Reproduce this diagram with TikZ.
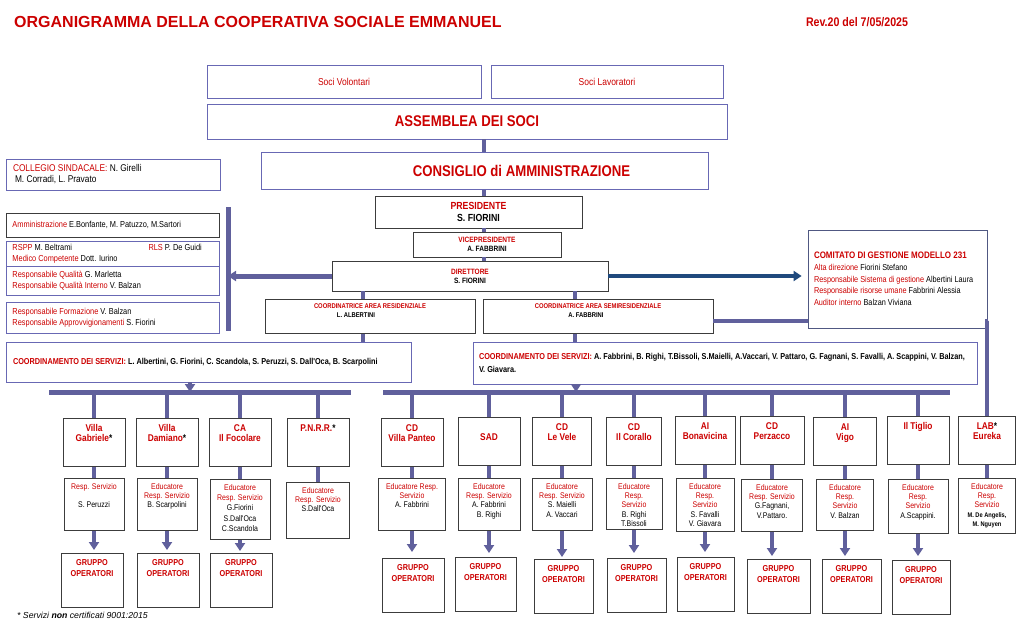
\documentclass[tikz,border=0pt]{standalone}
\usepackage{fontspec}
\setmainfont{Liberation Sans}
\newfontfamily\narr[FakeStretch=0.85]{Liberation Sans}
\usetikzlibrary{arrows.meta}
\definecolor{redtext}{RGB}{204,0,0}
\definecolor{boxblue}{RGB}{104,104,180}
\definecolor{boxdark}{RGB}{60,60,60}
\definecolor{connblue}{RGB}{96,96,156}
\definecolor{navyline}{RGB}{31,73,125}
\definecolor{comline}{RGB}{80,88,130}
\newcommand{\rd}[1]{\textcolor{redtext}{#1}}
\newcommand{\fs}[2]{\fontsize{#1}{#2}\selectfont}
\tikzstyle{bluebox}=[draw=boxblue,line width=0.8pt,fill=white,inner sep=0pt]
\tikzstyle{darkbox}=[draw=boxdark,line width=0.8pt,fill=white,inner sep=0pt]
\tikzstyle{sidebox}=[bluebox,align=flush left,text width=200pt,minimum width=213pt,font=\narr\fs{8.7}{11}]
\tikzstyle{cell}=[darkbox,anchor=north,align=flush center,inner xsep=3pt,inner ysep=4pt]
\tikzstyle{unit}=[cell,text width=56pt,text height=9pt,text depth=31pt,text=redtext,font=\narr\bfseries\fs{9.8}{10.5}]
\tikzstyle{resp}=[cell,text width=54pt,text height=7pt,text depth=37pt,font=\narr\fs{8.2}{9.2}]
\tikzstyle{grp}=[cell,text width=56pt,text height=8pt,text depth=38pt,text=redtext,font=\narr\bfseries\fs{8.6}{11}]
\tikzstyle{conn}=[draw=connblue,line width=4pt]
\tikzstyle{navy}=[draw=navyline,fill=navyline,line width=3.5pt]

\begin{document}
\begin{tikzpicture}[x=1pt,y=-1pt,>={Triangle[width=10pt,length=8pt]}]
          \fill[white] (0,0) rectangle (1024,621);
          \useasboundingbox (0,0) rectangle (1024,621);

          \node[anchor=west,inner sep=0pt,text=redtext,font=\bfseries\fs{16}{18}] at (14, 21.5) (titolo) {ORGANIGRAMMA DELLA COOPERATIVA SOCIALE EMMANUEL};
          \node[inner sep=0pt,text=redtext,font=\narr\bfseries\fs{12.5}{14}] at (857, 22.5) (rev) {Rev.20 del 7/05/2025};

          \node[bluebox,minimum width=274pt,minimum height=33pt,text=redtext,font=\narr\fs{10}{12}] at (344, 81.5) (volontari) {Soci Volontari};
          \node[bluebox,minimum width=232pt,minimum height=33pt,text=redtext,font=\narr\fs{10}{12}] at (607, 81.5) (lavoratori) {Soci Lavoratori};
          \node[bluebox,minimum width=520pt,minimum height=35pt,text=redtext,font=\narr\bfseries\fs{15.5}{18}] at (467, 121.5) (assemblea) {ASSEMBLEA DEI SOCI};
          \node[bluebox,minimum width=447pt,minimum height=37pt,text=redtext,font=\narr\bfseries\fs{15.5}{18}] at (484.5, 171) (consiglio) {\hspace*{74pt}CONSIGLIO di AMMINISTRAZIONE};
          \node[darkbox,minimum width=207pt,minimum height=32pt,align=flush center,font=\narr\bfseries\fs{10.3}{12}] at (478.5, 212) (presidente) {\rd{PRESIDENTE}\\S. FIORINI};
          \node[darkbox,minimum width=148pt,minimum height=25pt,align=flush center,font=\narr\bfseries\fs{7.7}{9}] at (487, 244.5) (vice) {\rd{VICEPRESIDENTE}\\A. FABBRINI};
          \node[darkbox,minimum width=276pt,minimum height=30pt,align=flush center,font=\narr\bfseries\fs{7.7}{9}] at (470, 276) (direttore) {\rd{DIRETTORE}\\S. FIORINI};
          \node[cell,inner ysep=3pt,text width=204pt,text height=6pt,text depth=22pt,font=\narr\bfseries\fs{6.9}{9}] at (370, 299) (resid) {\rd{COORDINATRICE AREA RESIDENZIALE}\\\hspace*{-28pt}L. ALBERTINI};
          \node[cell,inner ysep=3pt,text width=224pt,text height=6pt,text depth=22pt,font=\narr\bfseries\fs{6.9}{9}] at (598, 299) (semires) {\rd{COORDINATRICE AREA SEMIRESIDENZIALE}\\\hspace*{-24pt}A. FABBRINI};
          \node[draw=comline,line width=0.8pt,fill=white,minimum width=179pt,minimum height=98pt,text width=167pt,align=flush left,inner sep=0pt,font=\narr\fs{8.6}{11.7}] at (897.5, 279) (comitato) {\rd{\bfseries\fs{9.4}{11.7}COMITATO DI GESTIONE MODELLO 231}\\\rd{Alta direzione} Fiorini Stefano\\\rd{Responsabile Sistema di gestione} Albertini Laura\\\rd{Responsabile risorse umane} Fabbrini Alessia\\\rd{Auditor interno} Balzan Viviana};

          \node[sidebox,minimum width=214pt,minimum height=31pt,font=\narr\fs{9.8}{11}] at (113, 174.5) (collegio) {\rd{COLLEGIO SINDACALE:} N. Girelli\\\hspace*{2pt}M. Corradi, L. Pravato};
          \node[sidebox,draw=boxdark,minimum height=24pt] at (112.5, 225) (ammin) {\rd{Amministrazione} E.Bonfante, M. Patuzzo, M.Sartori};
          \node[sidebox,minimum height=25pt] at (112.5, 253.5) (rspp) {\makebox[136pt][l]{\rd{RSPP} M. Beltrami}\rd{RLS} P. De Guidi\\\rd{Medico Competente} Dott. Iurino};
          \node[sidebox,minimum height=29pt] at (112.5, 280.5) (qualita) {\rd{Responsabile Qualità} G. Marletta\\\rd{Responsabile Qualità Interno} V. Balzan};
          \node[sidebox,minimum height=31pt] at (112.5, 317.5) (formazione) {\rd{Responsabile Formazione} V. Balzan\\\rd{Responsabile Approvvigionamenti} S. Fiorini};

          \node[bluebox,minimum width=405pt,minimum height=40pt,text width=391pt,align=flush left,font=\narr\bfseries\fs{8.6}{12.5}] at (208.5, 362) (coordres) {\rd{COORDINAMENTO DEI SERVIZI:} L. Albertini, G. Fiorini, C. Scandola, S. Peruzzi, S. Dall'Oca, B. Scarpolini};
          \node[bluebox,minimum width=504pt,minimum height=42pt,text width=492pt,align=flush left,font=\narr\bfseries\fs{8.6}{12.5}] at (725, 363) (coordsem) {\rd{COORDINAMENTO DEI SERVIZI:} A. Fabbrini, B. Righi, T.Bissoli, S.Maielli, A.Vaccari, V. Pattaro, G. Fagnani, S. Favalli, A. Scappini, V. Balzan,\\V. Giavara.};

          \node[unit] at (94, 418) (gabriele) {Villa\\Gabriele\textcolor{black}{*}};
          \node[unit] at (167, 418) (damiano) {Villa\\Damiano\textcolor{black}{*}};
          \node[unit] at (240, 418) (focolare) {CA\\Il Focolare};
          \node[unit] at (318, 418) (pnrr) {P.N.R.R.\textcolor{black}{*}};
          \node[unit] at (412, 418) (panteo) {CD\\Villa Panteo};
          \node[unit] at (489, 417) (sad) {\mbox{}\\SAD};
          \node[unit,text width=53pt] at (562, 417) (vele) {CD\\Le Vele};
          \node[unit,text width=49pt] at (634, 417) (corallo) {CD\\Il Corallo};
          \node[unit,text width=54pt] at (705, 416) (bonavicina) {AI\\Bonavicina};
          \node[unit,text width=58pt] at (772, 416) (perzacco) {CD\\Perzacco};
          \node[unit,text width=57pt] at (845, 417) (vigo) {AI\\Vigo};
          \node[unit] at (918, 416) (tiglio) {Il Tiglio};
          \node[unit,text width=51pt] at (987, 416) (lab) {LAB\textcolor{black}{*}\\Eureka};

          \node[resp] at (94, 478) (rgabriele) {\rd{Resp. Servizio}\\[9pt]S. Peruzzi};
          \node[resp] at (167, 478) (rdamiano) {\rd{Educatore}\\\rd{Resp. Servizio}\\B. Scarpolini};
          \node[resp,text depth=45pt,font=\narr\fs{8.2}{10.2}] at (240, 479) (rfocolare) {\rd{Educatore}\\\rd{Resp. Servizio}\\G.Fiorini\\S.Dall'Oca\\C.Scandola};
          \node[resp,text width=57pt,text depth=41pt] at (318, 482) (rpnrr) {\rd{Educatore}\\\rd{Resp. Servizio}\\S.Dall'Oca};
          \node[resp,text width=61pt] at (412, 478) (rpanteo) {\rd{Educatore Resp.}\\\rd{Servizio}\\A. Fabbrini};
          \node[resp,text width=56pt] at (489, 478) (rsad) {\rd{Educatore}\\\rd{Resp. Servizio}\\A. Fabbrini\\B. Righi};
          \node[resp] at (562, 478) (rvele) {\rd{Educatore}\\\rd{Resp. Servizio}\\S. Maielli\\A. Vaccari};
          \node[resp,text width=50pt,text depth=36pt] at (634, 478) (rcorallo) {\rd{Educatore}\\\rd{Resp.}\\\rd{Servizio}\\B. Righi\\T.Bissoli};
          \node[resp,text width=52pt,text depth=38pt] at (705, 478) (rbonavicina) {\rd{Educatore}\\\rd{Resp.}\\\rd{Servizio}\\S. Favalli\\V. Giavara};
          \node[resp,text width=55pt] at (772, 479) (rperzacco) {\rd{Educatore}\\\rd{Resp. Servizio}\\G.Fagnani,\\V.Pattaro.};
          \node[resp,text width=51pt,text depth=36pt] at (845, 479) (rvigo) {\rd{Educatore}\\\rd{Resp.}\\\rd{Servizio}\\V. Balzan};
          \node[resp,text depth=39pt] at (918, 479) (rtiglio) {\rd{Educatore}\\\rd{Resp.}\\\rd{Servizio}\\A.Scappini.};
          \node[resp,text width=51pt,text depth=40pt] at (987, 478) (rlab) {\rd{Educatore}\\\rd{Resp.}\\\rd{Servizio}\\{\bfseries\fs{6.7}{9}M. De Angelis,}\\{\bfseries\fs{6.7}{9}M. Nguyen}};

          \node[grp] at (92, 553) (ggabriele) {GRUPPO\\OPERATORI};
          \node[grp] at (168, 553) (gdamiano) {GRUPPO\\OPERATORI};
          \node[grp] at (241, 553) (gfocolare) {GRUPPO\\OPERATORI};
          \node[grp] at (413, 558) (gpanteo) {GRUPPO\\OPERATORI};
          \node[grp,text width=55pt] at (485.5, 557) (gsad) {GRUPPO\\OPERATORI};
          \node[grp,text width=53pt] at (563.5, 559) (gvele) {GRUPPO\\OPERATORI};
          \node[grp,text width=53pt] at (636.5, 558) (gcorallo) {GRUPPO\\OPERATORI};
          \node[grp,text width=51pt] at (705.5, 557) (gbonavicina) {GRUPPO\\OPERATORI};
          \node[grp,text width=57pt] at (778.5, 559) (gperzacco) {GRUPPO\\OPERATORI};
          \node[grp,text width=53pt] at (851.5, 559) (gvigo) {GRUPPO\\OPERATORI};
          \node[grp,text width=52pt] at (921, 560) (gtiglio) {GRUPPO\\OPERATORI};

          \node[anchor=base west,inner sep=0pt,font=\itshape\fs{8.7}{10}] at (17, 618) (nota) {* Servizi \textbf{non} certificati 9001:2015};

          \coordinate (spine) at (484, 0);
          \coordinate (kres) at (363, 0);
          \coordinate (ksem) at (575, 0);
          \coordinate (sideT) at (228, 207);
          \coordinate (sideB) at (228, 331);
          \coordinate (blW) at (49, 392);
          \coordinate (blE) at (351, 392);
          \coordinate (bl) at (190, 392);
          \coordinate (brW) at (383, 392);
          \coordinate (brE) at (950, 392);
          \coordinate (br) at (576, 392);

          \draw[conn] (assemblea.south -| spine) -- (consiglio.north -| spine);
          \draw[conn] (consiglio.south -| spine) -- (presidente.north -| spine);
          \draw[conn] (presidente.south -| spine) -- (vice.north -| spine);
          \draw[conn] (vice.south -| spine) -- (direttore.north -| spine);
          \draw[conn] (direttore.south -| kres) -- (resid.north -| kres);
          \draw[conn] (direttore.south -| ksem) -- (semires.north -| ksem);
          \draw[conn] (resid.south -| kres) -- (coordres.north -| kres);
          \draw[conn] (semires.south -| ksem) -- (coordsem.north -| ksem);

          \draw[conn,line width=5pt] (sideT) -- (sideB);
          \draw[conn,line width=5pt,->] (direttore.west) -- (direttore.west -| sideT);
          \draw[navy,->,shorten >=6pt] (direttore.east) -- (comitato.west |- direttore.east);
          \draw[conn] ([yshift=-4.5pt]semires.east) -- ([yshift=-4.5pt]semires.east -| comitato.west);
          \draw[conn] ([yshift=-4.5pt]semires.east -| comitato.east) -| (lab.north);

          \draw[conn,line width=5pt] (blW) -- (blE);
          \draw[conn,line width=5pt] (brW) -- (brE);
          \draw[conn,->] (coordres.south -| bl) -- (bl);
          \draw[conn,->] (coordsem.south -| br) -- (br);

          \draw[conn] (gabriele.north |- bl) -- (gabriele.north);
          \draw[conn] (damiano.north |- bl) -- (damiano.north);
          \draw[conn] (focolare.north |- bl) -- (focolare.north);
          \draw[conn] (pnrr.north |- bl) -- (pnrr.north);
          \draw[conn] (panteo.north |- br) -- (panteo.north);
          \draw[conn] (sad.north |- br) -- (sad.north);
          \draw[conn] (vele.north |- br) -- (vele.north);
          \draw[conn] (corallo.north |- br) -- (corallo.north);
          \draw[conn] (bonavicina.north |- br) -- (bonavicina.north);
          \draw[conn] (perzacco.north |- br) -- (perzacco.north);
          \draw[conn] (vigo.north |- br) -- (vigo.north);
          \draw[conn] (tiglio.north |- br) -- (tiglio.north);

          \draw[conn] (gabriele) -- (rgabriele);
          \draw[conn] (damiano) -- (rdamiano);
          \draw[conn] (focolare) -- (rfocolare);
          \draw[conn] (pnrr) -- (rpnrr);
          \draw[conn] (panteo) -- (rpanteo);
          \draw[conn] (sad) -- (rsad);
          \draw[conn] (vele) -- (rvele);
          \draw[conn] (corallo) -- (rcorallo);
          \draw[conn] (bonavicina) -- (rbonavicina);
          \draw[conn] (perzacco) -- (rperzacco);
          \draw[conn] (vigo) -- (rvigo);
          \draw[conn] (tiglio) -- (rtiglio);
          \draw[conn] (lab) -- (rlab);

          \draw[conn,->,shorten >=3pt] (rgabriele.south) -- (rgabriele.south |- ggabriele.north);
          \draw[conn,->,shorten >=3pt] (rdamiano.south) -- (rdamiano.south |- gdamiano.north);
          \draw[conn,->,shorten >=2pt] (rfocolare.south) -- (rfocolare.south |- gfocolare.north);
          \draw[conn,->,shorten >=6pt] (rpanteo.south) -- (rpanteo.south |- gpanteo.north);
          \draw[conn,->,shorten >=4pt] (rsad.south) -- (rsad.south |- gsad.north);
          \draw[conn,->,shorten >=2pt] (rvele.south) -- (rvele.south |- gvele.north);
          \draw[conn,->,shorten >=5pt] (rcorallo.south) -- (rcorallo.south |- gcorallo.north);
          \draw[conn,->,shorten >=5pt] (rbonavicina.south) -- (rbonavicina.south |- gbonavicina.north);
          \draw[conn,->,shorten >=3pt] (rperzacco.south) -- (rperzacco.south |- gperzacco.north);
          \draw[conn,->,shorten >=3pt] (rvigo.south) -- (rvigo.south |- gvigo.north);
          \draw[conn,->,shorten >=4pt] (rtiglio.south) -- (rtiglio.south |- gtiglio.north);
\end{tikzpicture}
\end{document}
